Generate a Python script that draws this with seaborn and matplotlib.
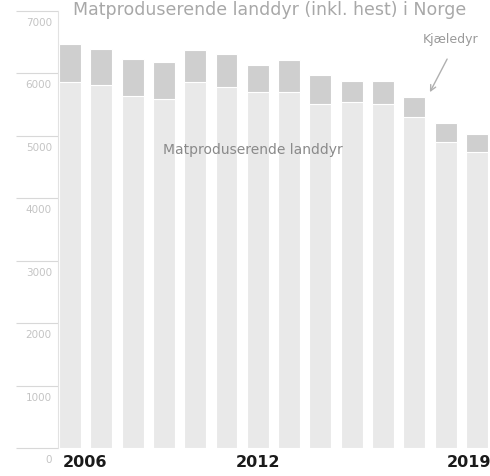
import pandas as pd
import seaborn as sns
import matplotlib.pyplot as plt
from matplotlib.transforms import ScaledTranslation

# data
years = [str(y) for y in range(2006, 2020)]
matprod = [5870, 5820, 5640, 5590, 5870, 5790, 5700, 5710, 5510, 5550, 5510, 5300, 4900, 4740]
kjaeledyr = [600, 570, 590, 600, 510, 520, 440, 510, 470, 330, 370, 330, 310, 290]
yticks = [0, 1000, 2000, 3000, 4000, 5000, 6000, 7000]
xtick_years = ['2006', '2012', '2019']

df = pd.DataFrame({'year': years, 'matprod': matprod, 'kjaeledyr': kjaeledyr})
df['total'] = df['matprod'] + df['kjaeledyr']

sns.set_style('white')
plt.rcParams['font.family'] = ['DejaVu Sans']

fig = plt.figure(figsize=(4.9, 4.77), dpi=100)
ax = fig.add_axes([58 / 490, 28 / 477, 432 / 490, 437 / 477])

# stacked bars: total first (pets on top), then food-producing animals over it
sns.barplot(data=df, x='year', y='total', order=years, color='#cfcfcf',
            saturation=1, width=0.7, edgecolor='white', linewidth=0.8, ax=ax)
sns.barplot(data=df, x='year', y='matprod', order=years, color='#e9e9e9',
            saturation=1, width=0.7, edgecolor='white', linewidth=0.8, ax=ax)

ax.set_xlim(-0.383, 13.42)
ax.set_ylim(0, 7000)
ax.set_xlabel('')
ax.set_ylabel('')

# y axis: long gray tick lines with labels sitting under them
ax.set_yticks(yticks)
ax.set_yticklabels([str(v) for v in yticks], fontsize=7.5, color='#c4c4c4')
ax.tick_params(axis='y', left=True, direction='out', length=30, width=0.8,
               color='#d8d8d8', pad=-27)
for lab in ax.get_yticklabels():
    lab.set_horizontalalignment('right')
    lab.set_transform(lab.get_transform() + ScaledTranslation(-0.02, -0.1, fig.dpi_scale_trans))

# x axis: only three years
ax.set_xticks([years.index(y) for y in xtick_years])
ax.set_xticklabels(xtick_years, fontsize=11.5, fontweight='bold', color='#1a1a1a')
ax.tick_params(axis='x', bottom=True, direction='in', length=11, width=1.2,
               color='#444444', pad=4)
xl = ax.get_xticklabels()
xl[0].set_transform(xl[0].get_transform() + ScaledTranslation(0.15, 0, fig.dpi_scale_trans))
xl[2].set_transform(xl[2].get_transform() + ScaledTranslation(-0.08, 0, fig.dpi_scale_trans))

sns.despine(ax=ax, top=True, right=True, bottom=True)
ax.spines['left'].set_color('#e2e2e2')
ax.spines['left'].set_linewidth(0.8)

# labels inside the chart
ax.text(5.85, 4790, 'Matproduserende landdyr', ha='center', va='center',
        fontsize=10, color='#8a8a8a')
ax.text(12.15, 6560, 'Kjæledyr', ha='center', va='center', fontsize=9, color='#9a9a9a')
ax.annotate('', xy=(11.5, 5700), xytext=(12.05, 6230),
            arrowprops=dict(arrowstyle='->', color='#b0b0b0', lw=1,
                            shrinkA=0, shrinkB=0))

# title at the top edge
fig.text(73 / 490, (477 - 15) / 477, 'Matproduserende landdyr (inkl. hest) i Norge',
         ha='left', va='baseline', fontsize=12.5, color='#a8a8a8')

fig.savefig('out.png', dpi=100)
